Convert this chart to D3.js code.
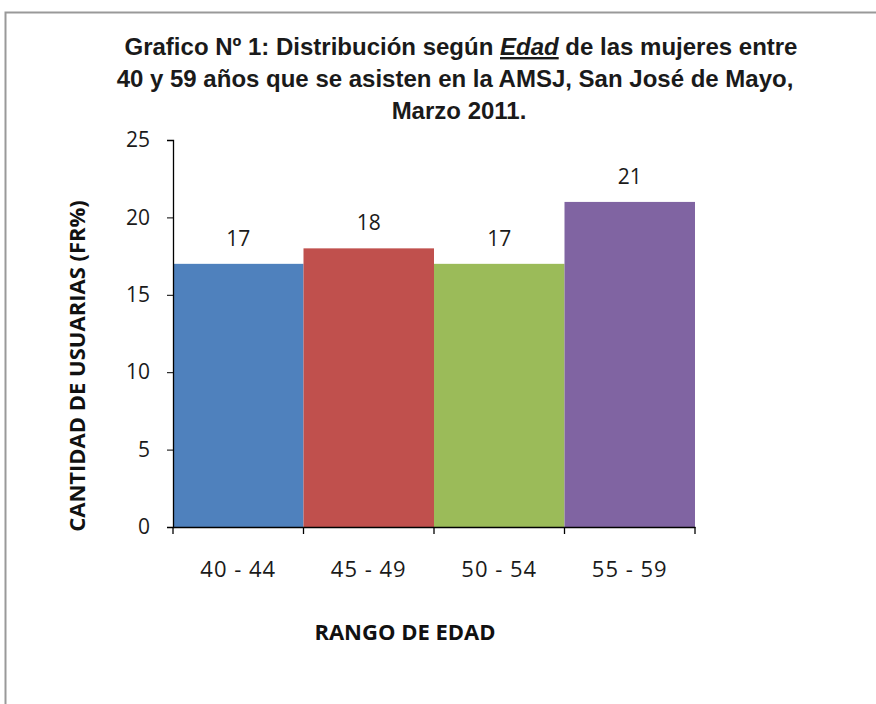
<!DOCTYPE html>
<html>
<head>
<meta charset="utf-8">
<script src="https://cdn.jsdelivr.net/npm/d3@7"></script>
<style>
  body { margin: 0; background: #fff; }
  svg { display: block; }
  .tick text { font-family: "Open Sans", Lato, sans-serif; fill: #1a1a1a; }
  .axis path, .axis line { stroke: #000; }
</style>
</head>
<body>
<svg></svg>
<script>
const w = 876;
const h = 704;

const categories = ["40 - 44", "45 - 49", "50 - 54", "55 - 59"];
const values = [17, 18, 17, 21];
const colors = ["#4F81BD", "#C0504D", "#9BBB59", "#8064A2"];
const yTicks = [0, 5, 10, 15, 20, 25];

const plotLeft = 173, plotRight = 695, plotTop = 140, plotBottom = 527;

const svg = d3.select("svg").attr("width", w).attr("height", h);

// outer frame
svg.append("rect")
  .attr("x", 5.5).attr("y", 12.5)
  .attr("width", w + 10).attr("height", h + 10)
  .attr("fill", "#fff").attr("stroke", "#999").attr("stroke-width", 2);

const x = d3.scaleBand().domain(categories).range([plotLeft, plotRight]).padding(0);
const y = d3.scaleLinear().domain([0, 25]).range([plotBottom, plotTop]);

/** bars */
svg.selectAll("rect.bar")
  .data(values)
  .enter()
  .append("rect")
  .attr("class", "bar")
  .attr("x", (d, i) => x(categories[i]))
  .attr("y", (d) => y(d))
  .attr("width", x.bandwidth())
  .attr("height", (d) => y(0) - y(d))
  .attr("fill", (d, i) => colors[i]);

/** value labels */
svg.selectAll("text.val")
  .data(values)
  .enter()
  .append("text")
  .attr("class", "val")
  .text((d) => d)
  .attr("x", (d, i) => x(categories[i]) + x.bandwidth() / 2)
  .attr("y", (d) => y(d) - 18)
  .attr("text-anchor", "middle")
  .style("font-family", "'Open Sans', Lato, sans-serif")
  .style("font-size", "21px")
  .style("fill", "#1a1a1a");

/** axes */
const yAxis = svg.append("g")
  .attr("class", "axis")
  .attr("transform", `translate(${plotLeft},0)`)
  .call(d3.axisLeft(y).tickValues(yTicks).tickSize(6).tickSizeOuter(6).tickPadding(17));
yAxis.select(".domain").attr("stroke-width", 1.3);
yAxis.selectAll(".tick text").style("font-size", "21px");

const xAxis = svg.append("g")
  .attr("class", "axis")
  .attr("transform", `translate(0,${plotBottom})`)
  .call(d3.axisBottom(x).tickSize(0).tickPadding(34));
xAxis.select(".domain").attr("stroke-width", 1.3);
xAxis.selectAll(".tick text").style("font-size", "22px").style("letter-spacing", "1px");
// category boundary ticks
xAxis.selectAll("line.bound")
  .data(d3.range(categories.length + 1))
  .enter()
  .append("line")
  .attr("class", "bound")
  .attr("x1", (i) => plotLeft + i * x.step())
  .attr("x2", (i) => plotLeft + i * x.step())
  .attr("y1", 0).attr("y2", 7)
  .attr("stroke", "#000").attr("stroke-width", 1.3);

/** axis titles */
svg.append("text")
  .text("RANGO DE EDAD")
  .attr("x", 405).attr("y", 640)
  .attr("text-anchor", "middle")
  .style("font-family", "'Open Sans', Lato, sans-serif")
  .style("font-weight", "bold")
  .style("font-size", "22px")
  .style("fill", "#111");

svg.append("text")
  .text("CANTIDAD DE USUARIAS (FR%)")
  .attr("transform", "translate(85,366) rotate(-90)")
  .attr("text-anchor", "middle")
  .style("font-family", "'Open Sans', Lato, sans-serif")
  .style("font-weight", "bold")
  .style("font-size", "22px")
  .style("fill", "#111");

/** title */
const title = svg.append("text")
  .attr("text-anchor", "middle")
  .style("font-family", "'Liberation Sans', Arial, sans-serif")
  .style("font-size", "24px")
  .style("font-weight", "bold")
  .style("fill", "#1a1a1a");

const l1 = title.append("tspan").attr("x", 461).attr("y", 55);
l1.append("tspan").text("Grafico Nº 1: Distribución según ");
l1.append("tspan").text("Edad").style("font-style", "italic").style("text-decoration", "underline");
l1.append("tspan").text("  de las mujeres entre");
title.append("tspan").attr("x", 455).attr("y", 87)
  .text("40 y 59 años que se asisten en la AMSJ, San José de Mayo,");
title.append("tspan").attr("x", 459).attr("y", 119).text("Marzo 2011.");
</script>
</body>
</html>
